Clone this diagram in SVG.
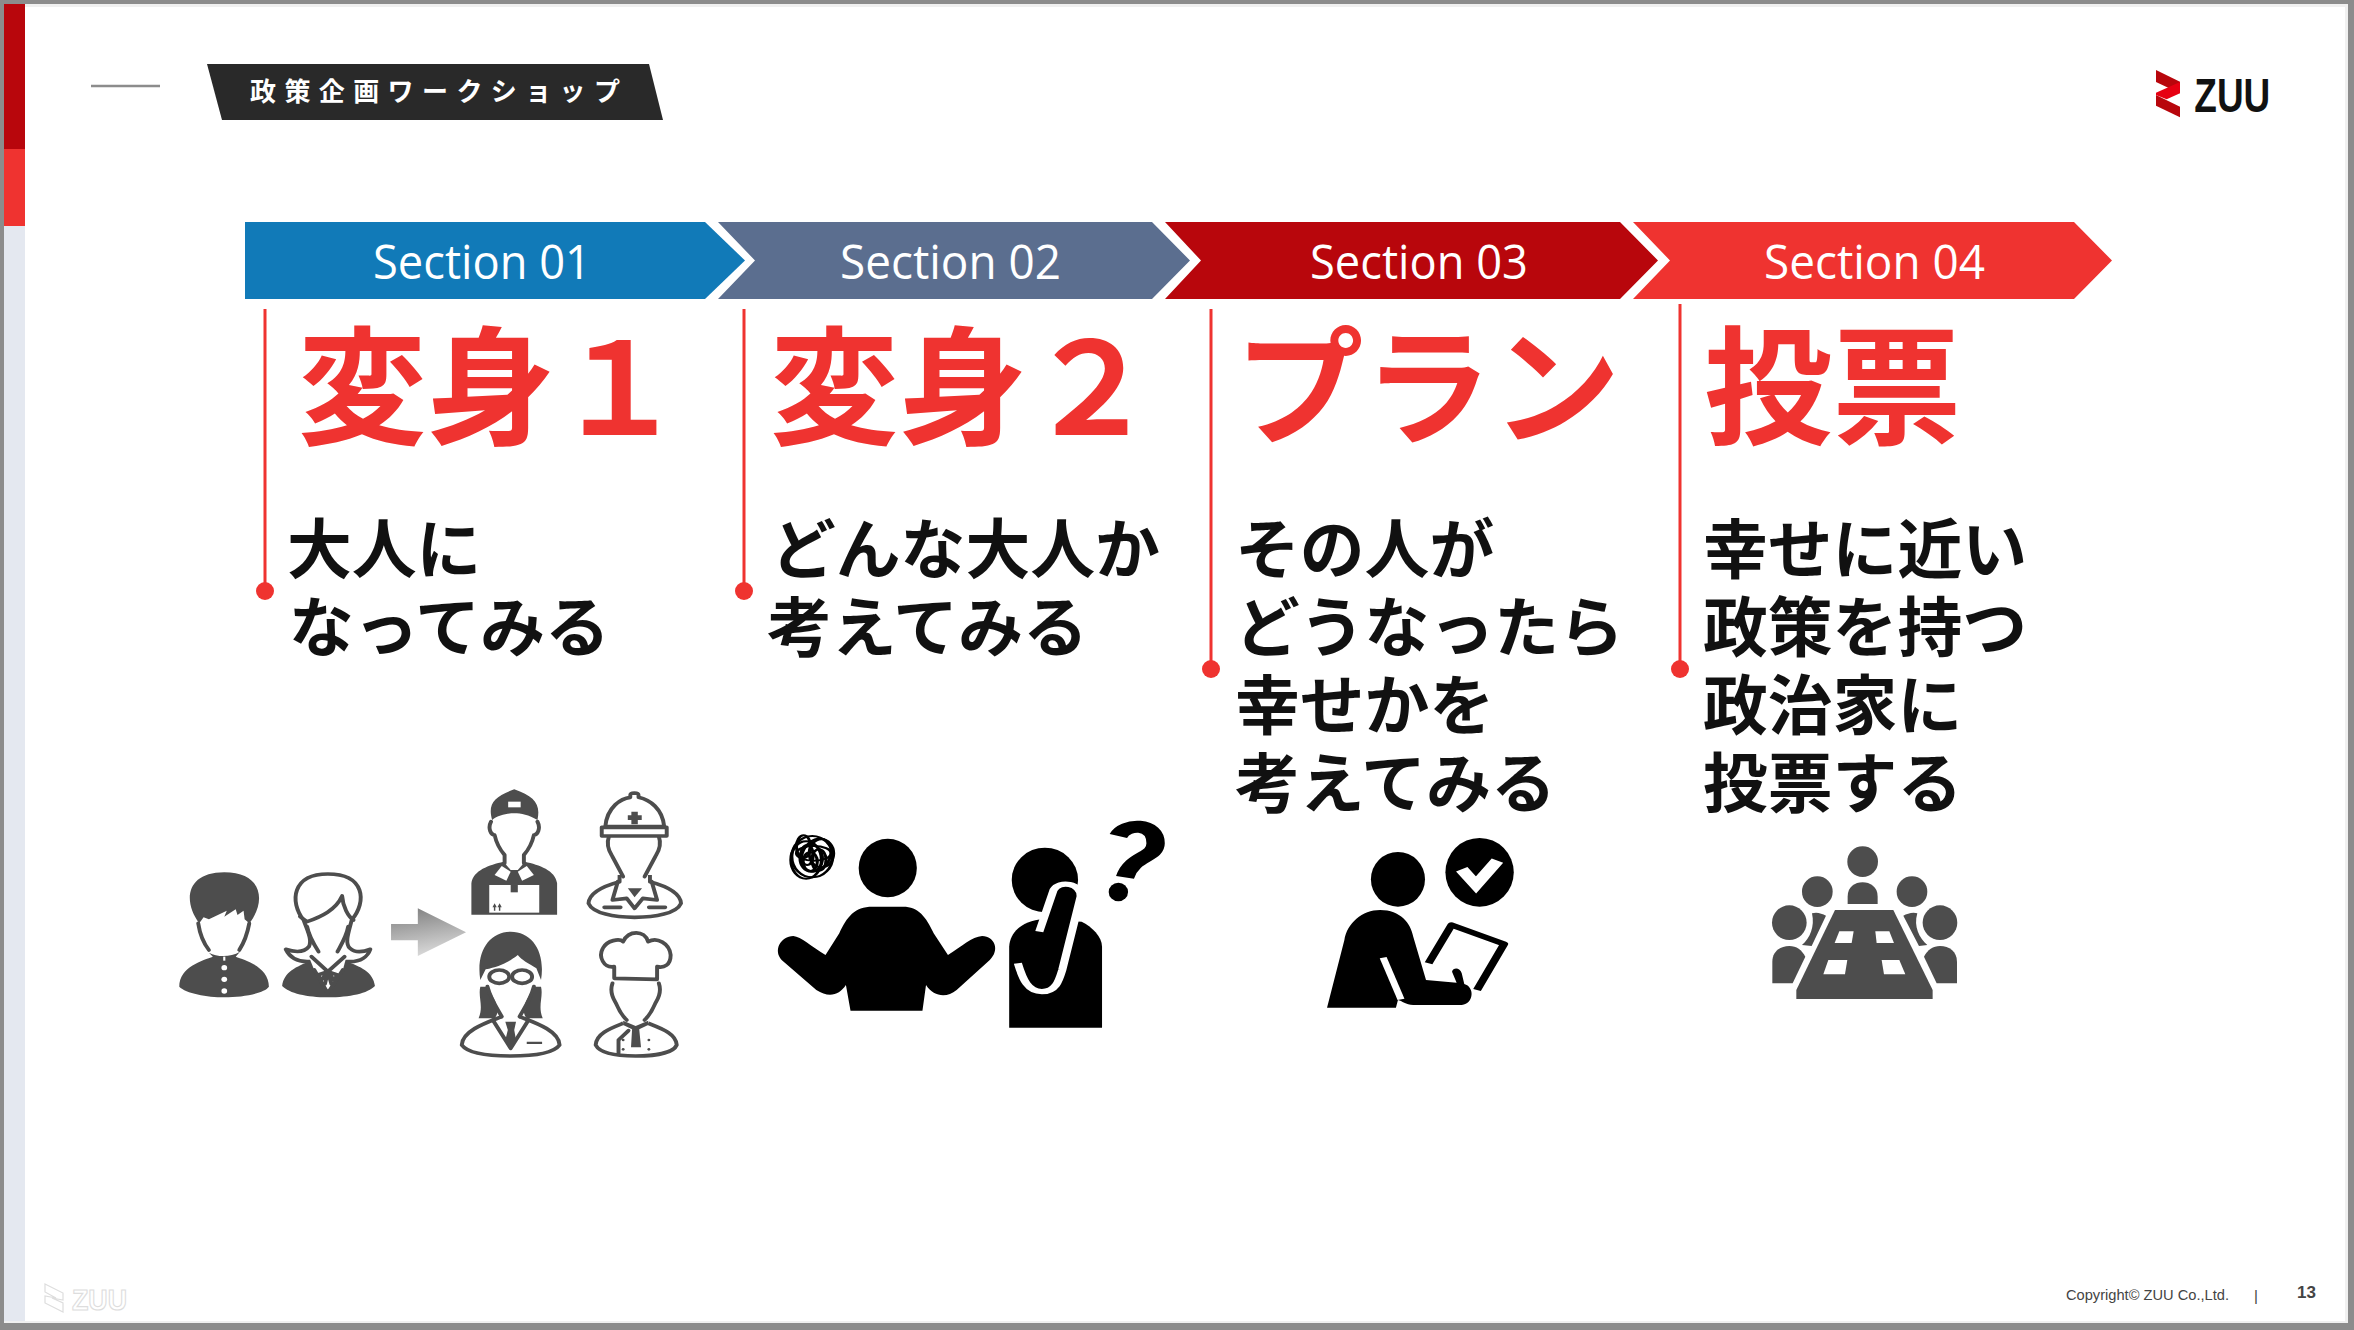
<svg xmlns="http://www.w3.org/2000/svg" width="2354" height="1330" viewBox="0 0 2354 1330">
<style>
.jp{font-family:"Noto Sans CJK JP","Noto Sans",sans-serif;font-weight:700}
.h{font-size:128.5px;fill:#ef3330}
.b{font-size:64.8px;fill:#111}
.sec{font-family:"Open Sans","Noto Sans",sans-serif;font-size:47px;fill:#fff}
.rule{stroke:#ef3330;stroke-width:3;fill:none}
.dot{fill:#ef3330}
.o{fill:none;stroke:#4d4d4d;stroke-width:11;stroke-linejoin:round;stroke-linecap:round}
.w{fill:#fff;stroke:#4d4d4d;stroke-width:11;stroke-linejoin:round}
.d{fill:#4d4d4d}
.wf{fill:#fff}
.k{fill:#000}
.foot{font-family:"Liberation Sans",Arial,sans-serif;fill:#444}
</style>
<defs>
<linearGradient id="ag" x1="0" y1="0" x2="0.25" y2="1"><stop offset="0" stop-color="#7d7d7d"/><stop offset="1" stop-color="#d6d6d6"/></linearGradient>
</defs>
<rect width="2354" height="1330" fill="#8c8c8c"/>
<rect x="4" y="4" width="2344" height="1319" fill="#f0f0f0"/>
<rect x="4" y="7" width="2341" height="1314" fill="#fff"/>
<g id="side-band">
<rect x="4" y="4" width="21" height="145" fill="#b8060c"/>
<rect x="4" y="149" width="21" height="77" fill="#ef3330"/>
<rect x="4" y="226" width="21" height="1095" fill="#e4e8f0"/>
</g>
<g id="title">
<line x1="91" y1="86" x2="160" y2="86" stroke="#8c8c8c" stroke-width="2.5"/>
<polygon points="207,64 649,64 663,120 222,120" fill="#292929"/>
<text class="jp" x="250" y="101" font-size="26" letter-spacing="8.4" fill="#fff">政策企画ワークショップ</text>
</g>
<g id="logo" transform="translate(2100 40) scale(.3333)">
<polygon points="168,90 240,125 240,160 168,126" fill="#b8060c"/>
<polygon points="168,165 240,200 240,232 168,197" fill="#b8060c"/>
<polygon points="240,126 240,160 200,178 168,165 168,158" fill="#e60012"/>
<text x="283" y="215" font-family="Liberation Sans,Arial,sans-serif" font-weight="700" font-size="142" textLength="228" lengthAdjust="spacingAndGlyphs" fill="#111">ZUU</text>
</g>
<g id="section-01">
<polygon points="245,222 705,222 745,260.5 705,299 245,299" fill="#117ab8"/>
<text class="sec" x="373" y="279" textLength="218" lengthAdjust="spacingAndGlyphs">Section 01</text>
<line class="rule" x1="265" y1="309" x2="265" y2="591"/><circle class="dot" cx="265" cy="591" r="9"/>
<text class="jp h" x="298" y="435">変身１</text>
<text class="jp b" x="287" y="572.5">大人に</text>
<text class="jp b" x="289" y="650.5">なってみる</text>
</g>
<g id="section-02">
<polygon points="718,222 1152,222 1190,260.5 1152,299 718,299 755,260.5" fill="#5b6e8f"/>
<text class="sec" x="840" y="279" textLength="221" lengthAdjust="spacingAndGlyphs">Section 02</text>
<line class="rule" x1="744" y1="309" x2="744" y2="591"/><circle class="dot" cx="744" cy="591" r="9"/>
<text class="jp h" x="770" y="435">変身２</text>
<text class="jp b" x="771" y="572.5">どんな大人か</text>
<text class="jp b" x="767" y="650.5">考えてみる</text>
</g>
<g id="section-03">
<polygon points="1165,222 1620,222 1658,260.5 1620,299 1165,299 1201,260.5" fill="#b8060c"/>
<text class="sec" x="1310" y="279" textLength="218" lengthAdjust="spacingAndGlyphs">Section 03</text>
<line class="rule" x1="1211" y1="309" x2="1211" y2="669"/><circle class="dot" cx="1211" cy="669" r="9"/>
<text class="jp h" x="1235" y="435">プラン</text>
<text class="jp b" x="1235" y="572.5">その人が</text>
<text class="jp b" x="1235" y="650.5">どうなったら</text>
<text class="jp b" x="1235" y="728.5">幸せかを</text>
<text class="jp b" x="1235" y="806.5">考えてみる</text>
</g>
<g id="section-04">
<polygon points="1633,222 2074,222 2112,260.5 2074,299 1633,299 1670,260.5" fill="#ef3330"/>
<text class="sec" x="1764" y="279" textLength="221" lengthAdjust="spacingAndGlyphs">Section 04</text>
<line class="rule" x1="1680" y1="304" x2="1680" y2="669"/><circle class="dot" cx="1680" cy="669" r="9"/>
<text class="jp h" x="1704" y="435">投票</text>
<text class="jp b" x="1703" y="572.5">幸せに近い</text>
<text class="jp b" x="1703" y="650.5">政策を持つ</text>
<text class="jp b" x="1703" y="728.5">政治家に</text>
<text class="jp b" x="1703" y="806.5">投票する</text>
</g>
<g id="icons-people" transform="translate(150 760) scale(.3571 .3333)">
<g id="boy">
<path class="d" d="M138,490C92,425 100,337 208,337C316,337 326,425 278,490L265,478L262,452L245,465L240,448L208,470L215,452L165,478L150,472Z"/>
<path class="o" d="M135,490C140,525 150,550 165,570M278,490C272,525 262,550 250,570"/>
<path class="d" d="M165,578L176,590C150,600 82,620 82,680C100,700 160,712 208,712C260,712 320,700 333,680C333,620 265,600 240,590L252,575C225,592 190,592 165,578Z"/>
<circle class="wf" cx="208" cy="623" r="8"/><circle class="wf" cx="208" cy="658" r="8"/><circle class="wf" cx="208" cy="693" r="8"/>
<rect class="wf" x="205" y="590" width="6" height="12"/>
</g>
<g id="girl">
<path class="d" d="M370,678C375,635 410,620 450,602L498,640L545,602C590,620 625,635 630,678C610,700 560,712 498,712C440,712 390,700 370,678Z"/>
<path class="w" d="M430,480C390,425 398,342 498,342C602,342 608,425 565,480C555,520 545,550 560,565C575,580 600,575 617,568C610,590 590,605 560,605L440,605C410,605 390,590 380,568C400,575 430,580 445,560C455,540 440,510 430,480Z"/>
<path class="o" d="M420,470L440,485C480,470 520,450 538,408C540,440 555,470 570,480M440,500C445,530 460,555 472,575M555,500C550,530 535,555 525,575" stroke-width="8"/>
<polygon class="wf" points="445,590 550,590 540,630 498,700 460,630"/>
<path class="o" d="M452,590L498,635L545,590M498,635L470,645L480,660ZM498,635L525,645L515,660ZM498,635L490,672M498,635L508,672M460,630L498,700L540,630" stroke-width="5"/>
</g>
<polygon points="675,492 750,492 750,445 885,517 750,588 750,541 675,541" fill="url(#ag)"/>
<g id="delivery">
<path class="d" d="M900,464L900,370C905,330 950,315 990,305L1010,330L1030,330L1050,305C1090,315 1135,330 1140,370L1140,464Z"/>
<path class="d" d="M958,180C945,130 965,110 1020,88C1075,110 1095,130 1085,180C1060,165 1040,160 1020,160C1000,160 975,165 958,180Z"/>
<rect class="wf" x="1003" y="125" width="35" height="17"/>
<path class="o" d="M955,185C945,205 955,225 965,225C970,250 985,275 993,285L993,310M1085,185C1095,205 1085,225 1075,225C1070,250 1055,275 1047,285L1047,310"/>
<polygon class="wf" points="985,318 965,345 998,362 1010,335"/><polygon class="wf" points="1055,318 1075,345 1042,362 1030,335"/>
<rect class="wf" x="950" y="375" width="140" height="83"/>
<rect class="d" x="1010" y="375" width="20" height="22"/>
<path class="d" d="M965,430L959,442H963V452H967V442H971ZM979,430L973,442H977V452H981V442H985Z"/>
</g>
<g id="hardhat">
<path class="w" d="M1315,345L1315,365C1280,375 1230,395 1228,430C1240,460 1300,472 1357,472C1415,472 1475,460 1487,430C1485,395 1435,375 1400,365L1400,345"/>
<path d="M1285,230C1275,260 1290,280 1295,290C1305,310 1315,330 1325,360L1385,360C1395,330 1405,310 1415,290C1420,280 1435,260 1425,230Z" fill="#fff"/>
<path class="o" d="M1285,230C1275,260 1290,280 1295,290C1305,310 1315,330 1325,350M1425,230C1435,260 1420,280 1415,290C1405,310 1395,330 1385,350"/>
<path class="d" d="M1338,385L1357,412L1378,385Z"/>
<path class="w" d="M1275,200C1280,140 1320,115 1345,112L1345,105C1345,97 1368,97 1368,105L1368,112C1400,120 1435,145 1440,200Z"/>
<rect class="w" x="1265" y="202" width="182" height="26"/>
<path class="d" d="M1348,155H1366V166H1377V180H1366V193H1348V180H1338V166H1348Z"/>
<path class="o" d="M1310,365L1295,420L1335,415L1357,445L1380,415L1420,420L1405,365M1272,442H1318M1397,442H1443" stroke-width="7"/>
</g>
<g id="scientist">
<path class="w" d="M985,770C950,785 875,810 873,855C890,880 950,888 1010,888C1070,888 1130,880 1147,855C1145,810 1070,785 1035,770"/>
<path class="d" d="M925,680C918,710 935,740 920,775L965,775C985,750 965,720 945,680ZM1095,680C1102,710 1085,740 1100,775L1055,775C1035,750 1055,720 1075,680Z"/>
<path class="o" d="M945,680C955,720 975,750 985,770M1075,680C1065,720 1045,750 1035,770M960,780L1010,865L1060,780" stroke-width="8"/>
<path class="d" d="M925,660C912,575 950,515 1010,515C1070,515 1108,575 1095,660L1082,625C1060,610 1040,600 1030,585C1000,610 975,620 940,628Z"/>
<ellipse class="w" cx="978" cy="650" rx="28" ry="20"/><ellipse class="w" cx="1042" cy="650" rx="28" ry="20"/>
<path class="d" d="M995,785H1025L1020,810L1025,840L1010,865L995,840L1002,810ZM1055,845H1098V852H1055Z"/>
</g>
<g id="chef">
<path class="w" d="M1325,790C1290,805 1250,820 1248,855C1260,880 1310,888 1360,888C1410,888 1465,880 1475,855C1473,820 1430,805 1395,790"/>
<path class="o" d="M1295,670C1285,700 1300,720 1305,730C1315,755 1325,770 1335,780M1425,670C1435,700 1420,720 1415,730C1405,755 1395,770 1385,780"/>
<path class="d" d="M1325,782L1360,798L1395,782L1395,795L1370,808L1375,862H1347L1350,808L1325,795Z"/>
<path class="w" d="M1300,655L1300,620C1270,625 1255,590 1268,565C1280,540 1315,535 1325,545C1340,510 1385,510 1395,545C1420,530 1455,550 1458,585C1458,615 1440,625 1420,620L1420,658Z"/>
<path class="o" d="M1312,880V840L1340,812" stroke-width="6"/>
<g class="d"><circle cx="1325" cy="840" r="4"/><circle cx="1325" cy="868" r="4"/><circle cx="1397" cy="840" r="4"/><circle cx="1397" cy="868" r="4"/></g>
</g>
</g>
<g id="icon-shrug" transform="translate(750 790) scale(.5102 .3333)">
<ellipse class="k" cx="270" cy="234" rx="57" ry="88"/>
<path class="k" d="M197,662L188,585C175,615 155,625 130,600L62,510C45,480 60,440 85,438C100,440 120,470 148,495L175,430C190,380 205,350 240,350L300,350C330,350 345,380 360,430L388,495C415,470 435,440 455,438C480,440 490,480 470,510L405,600C385,625 360,620 345,585L338,662Z"/>
<g fill="none" stroke="#000" stroke-width="6">
<ellipse cx="122" cy="200" rx="40" ry="62"/><ellipse cx="110" cy="210" rx="30" ry="56"/><ellipse cx="130" cy="195" rx="28" ry="50" transform="rotate(12 130 195)"/><ellipse cx="120" cy="205" rx="22" ry="40"/><ellipse cx="105" cy="170" rx="14" ry="34"/><ellipse cx="140" cy="190" rx="24" ry="42"/><ellipse cx="118" cy="215" rx="14" ry="28"/><ellipse cx="125" cy="190" rx="34" ry="22"/><ellipse cx="112" cy="195" rx="12" ry="30"/><ellipse cx="135" cy="210" rx="14" ry="32"/>
</g>
</g>
<g id="icon-question" transform="translate(750 790) scale(.5102 .3333)">
<ellipse class="k" cx="578" cy="270" rx="65" ry="97"/>
<path class="k" d="M508,713L508,470C510,420 540,390 575,388L650,395C670,410 690,440 690,470L690,713Z"/>
<path d="M525,520C535,570 545,605 572,605C600,605 606,570 612,540L648,320C650,280 606,270 595,300L567,425" fill="#000" stroke="#fff" stroke-width="16"/>
<path d="M722,138C735,100 795,95 795,160C795,205 750,195 735,262" fill="none" stroke="#000" stroke-width="36"/>
<ellipse class="k" cx="722" cy="306" rx="19" ry="28"/>
</g>
<g id="icon-check" transform="translate(750 790) scale(.5102 .3333)">
<ellipse class="k" cx="1270" cy="268" rx="53" ry="82"/>
<ellipse class="k" cx="1430" cy="247" rx="67" ry="103"/>
<polyline points="1395,238 1423,285 1465,212" fill="none" stroke="#fff" stroke-width="26"/>
<path d="M1330,520L1375,405L1478,462L1425,600" fill="none" stroke="#000" stroke-width="16" stroke-linejoin="round"/>
<path class="k" d="M1131,653L1165,450C1170,400 1200,360 1235,360C1275,360 1295,400 1300,440L1325,570L1385,578L1376,545C1378,532 1392,532 1395,550L1400,582C1420,590 1420,640 1395,645L1300,645C1285,645 1278,632 1270,630L1266,653Z"/>
<path d="M1241,503L1276,628" stroke="#fff" stroke-width="14" fill="none"/>
</g>
<g id="icon-table" transform="translate(1700 820) scale(.3333)">
<g class="d">
<circle cx="488" cy="125" r="46"/><circle cx="352" cy="215" r="46"/><circle cx="636" cy="215" r="46"/><circle cx="268" cy="308" r="52"/><circle cx="720" cy="308" r="52"/>
<path d="M443,252L443,230C443,200 465,187 488,187C510,187 533,200 533,230L533,252Z"/>
<path d="M405,270L580,270L698,510L698,537L289,537L289,510Z"/>
<path d="M217,490L217,425C217,395 240,378 268,378C290,378 305,390 316,410L278,490Z"/>
<path d="M771,490L771,425C771,395 748,378 720,378C700,378 682,390 672,410L710,490Z"/>
<path d="M336,280C350,275 365,280 378,287L335,378L306,375C330,355 345,320 336,280Z"/>
<path d="M652,280C640,275 622,280 610,287L657,378L682,375C658,355 640,320 652,280Z"/>
</g>
<g class="wf">
<polygon points="418,334 461,334 455,369 404,369"/><polygon points="526,334 568,334 582,369 530,369"/><polygon points="385,420 442,420 435,463 370,463"/><polygon points="545,420 598,420 616,463 552,463"/>
</g>
</g>
<g id="footer">
<path d="M45,1284L63,1293V1300L52,1298L63,1303V1312L45,1303V1296L56,1298L45,1292Z" fill="none" stroke="#ddd" stroke-width="1.2"/>
<text x="72" y="1310" font-family="Liberation Sans,Arial,sans-serif" font-weight="700" font-size="30" textLength="55" lengthAdjust="spacingAndGlyphs" fill="none" stroke="#ddd" stroke-width="1.2">ZUU</text>
<text class="foot" x="2066" y="1300" font-size="15" textLength="163" lengthAdjust="spacingAndGlyphs">Copyright© ZUU Co.,Ltd.</text>
<text class="foot" x="2254" y="1301" font-size="15">|</text>
<text class="foot" x="2297" y="1298" font-size="17" font-weight="700">13</text>
</g>
</svg>
